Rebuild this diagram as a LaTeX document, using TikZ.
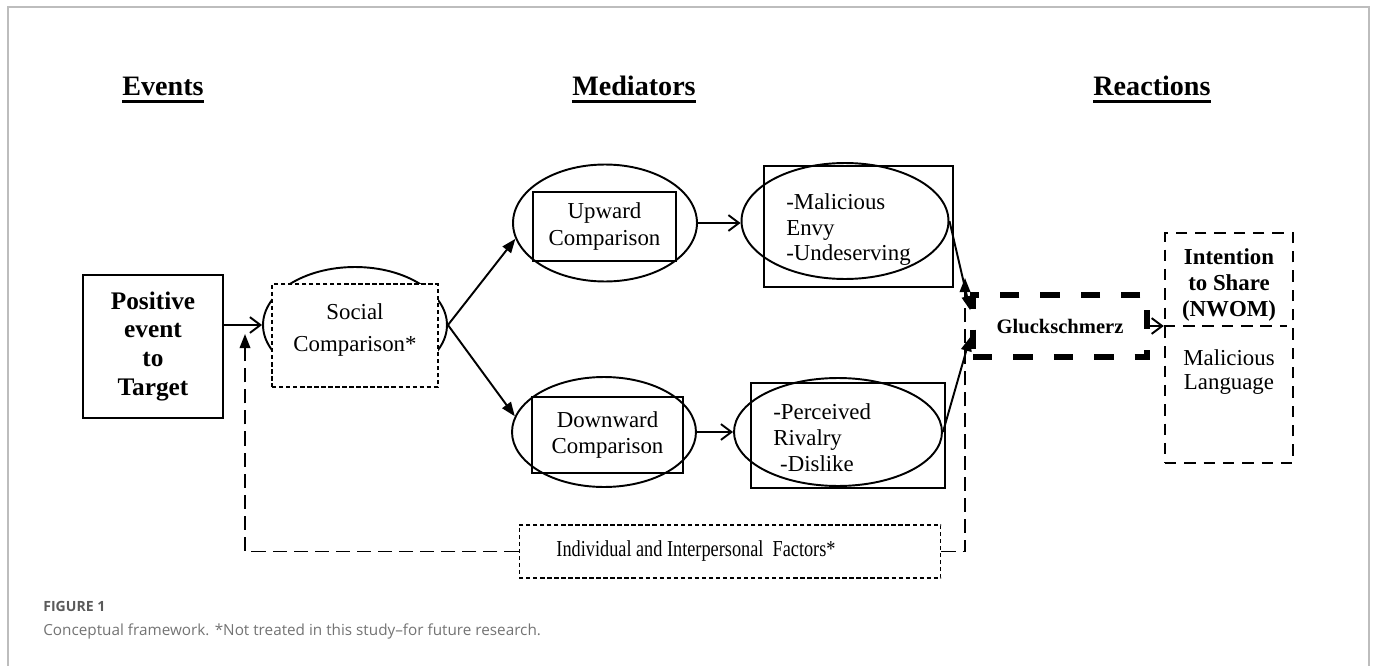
\documentclass[tikz,border=0pt]{standalone}
\usepackage{fontspec}
\setmainfont{Liberation Serif}
\newfontfamily\capfont{Open Sans}
\newfontfamily\condfont[FakeStretch=0.8]{Liberation Serif}
\usetikzlibrary{shapes.geometric,arrows.meta}

\definecolor{framegray}{HTML}{BDBDBD}
\definecolor{capgray}{HTML}{5A5A5A}

\tikzset{
  oval/.style={draw, ellipse, line width=1.1pt, inner sep=0pt},
  box/.style={draw, rectangle, line width=1.1pt, inner sep=0pt, align=center},
  open/.style={-{Straight Barb[length=6pt,width=9pt]}, line width=1.1pt},
  shut/.style={-{Triangle[length=8pt,width=6pt]}, line width=1.1pt},
  backline/.style={line width=1pt, dash pattern=on 8pt off 4pt},
}

\begin{document}
\begin{tikzpicture}[x=0.02cm, y=-0.02cm, font=\fontsize{13}{15}\selectfont]

  \useasboundingbox (0,0) rectangle (1377,666);
  \draw[framegray, line width=0.9pt] (8,666) -- (8,7) -- (1369,7) -- (1369,666);

  % column headings
  \begin{scope}[every node/.style={anchor=base, inner sep=0pt, font=\fontsize{16}{19}\selectfont\bfseries}]
    \node (ev) at (163,95)  {Events};
    \node (md) at (634,95)  {Mediators};
    \node (re) at (1152,95) {Reactions};
  \end{scope}
  \foreach \h in {ev,md,re}
    \draw[line width=1.6pt] ([yshift=-3.5pt]\h.base west) -- ([yshift=-3.5pt]\h.base east);

  % events
  \node[box, minimum width=2.8cm, minimum height=2.86cm, font=\fontsize{14.4}{16.5}\selectfont\bfseries]
    (pos) at (153,346.5) {Positive\\event\\to\\Target};

  % mediators
  \node[oval, minimum width=3.68cm, minimum height=2.32cm] (so) at (355,325) {};
  \node[box, line width=0.6pt, dash pattern=on 2.5pt off 1.5pt, fill=white,
        minimum width=3.32cm, minimum height=2.06cm] (sr) at (355,335.5) {};
  \node[align=center, inner sep=0pt, font=\fontsize{13}{18}\selectfont] (st) at (355,330) {Social\\Comparison*};

  \node[oval, minimum width=3.68cm, minimum height=2.34cm] (ue) at (605,223) {};
  \node[box, minimum width=2.86cm, minimum height=1.38cm] (ur) at (604.5,226.5) {Upward\\Comparison};
  \node[oval, minimum width=3.68cm, minimum height=2.2cm] (de) at (604,432) {};
  \node[box, minimum width=3.02cm, minimum height=1.52cm] (dr) at (607.5,435) {Downward\\Comparison};

  \node[oval, minimum width=4.14cm, minimum height=2.32cm] (me) at (845,221) {};
  \node[box, minimum width=3.78cm, minimum height=2.42cm] (mr) at (858.5,226.5) {};
  \node[anchor=west, inner sep=0pt, align=left, font=\fontsize{13}{14.5}\selectfont]
    (mt) at (786,230) {-Malicious\\Envy\\-Undeserving};

  \node[oval, minimum width=4.16cm, minimum height=2.16cm] (pe) at (838,432) {};
  \node[box, minimum width=3.88cm, minimum height=2.1cm] (pr) at (848,435.5) {};
  \node[anchor=west, inner sep=0pt, align=left, font=\fontsize{13}{14.8}\selectfont]
    (pt) at (773,438) {-Perceived\\Rivalry\\\hspace{0.3em}-Dislike};

  % reactions
  \node[box, line width=3.2pt, dash pattern=on 11pt off 12pt, minimum width=3.48cm, minimum height=1.24cm,
        font=\fontsize{11.7}{14}\selectfont\bfseries] (gl) at (1060,326) {Gluckschmerz};
  \node[box, line width=1.4pt, dash pattern=on 6.5pt off 4.5pt, minimum width=2.56cm, minimum height=4.6cm]
    (in) at (1229,348) {};
  \node[align=center, inner sep=0pt, font=\fontsize{13}{15}\selectfont\bfseries] (it) at (1229,285)
    {Intention\\to Share\\(NWOM)};
  \node[align=center, inner sep=0pt, font=\fontsize{13}{13.5}\selectfont] (ml) at (1229,372)
    {Malicious\\Language};
  \draw[line width=1.6pt, dash pattern=on 6.5pt off 4.5pt, shorten >=4pt] (in.west |- gl.east) -- (in.east |- gl.east);

  % moderators
  \node[box, line width=0.6pt, dash pattern=on 2.5pt off 1.5pt, minimum width=8.44cm, minimum height=1.06cm]
    (if) at (730,551.5) {};
  \node[inner sep=0pt, font=\fontsize{13}{15}\condfont] (ft) at (696,551) {Individual and Interpersonal\ \ Factors*};
  \coordinate (lt) at (245,334);
  \coordinate (rt) at (965,278);

  % connectors
  \draw[open] (pos.east |- so.west) -- (so.west);
  \draw[shut] (so.east) -- (ue.190);
  \draw[shut] (so.east) -- (de.170);
  \draw[open] (ue.east) -- (me.west |- ue.east);
  \draw[open] (de.east) -- (pe.west |- de.east);
  \draw[shut] (me.east) -- (gl.170);
  \draw[shut] (pe.east) -- (gl.187);
  \draw[open] (gl.east) -- (in.west |- gl.east);
  \draw[backline, -{Triangle[length=8pt,width=6pt]}] (if.west) -| (lt);
  \draw[backline, -{Triangle[length=8pt,width=6pt]}] (if.east) -| (rt);

  % caption
  \node[anchor=base west, inner sep=0pt, text=capgray, font=\capfont\bfseries\fontsize{8}{10}\selectfont]
    (fig) at (43,611) {FIGURE 1};
  \node[anchor=base west, inner sep=0pt, text=capgray!85, font=\capfont\fontsize{8.7}{11}\selectfont]
    (cap) at (43,635) {Conceptual framework. *Not treated in this study–for future research.};

\end{tikzpicture}
\end{document}
